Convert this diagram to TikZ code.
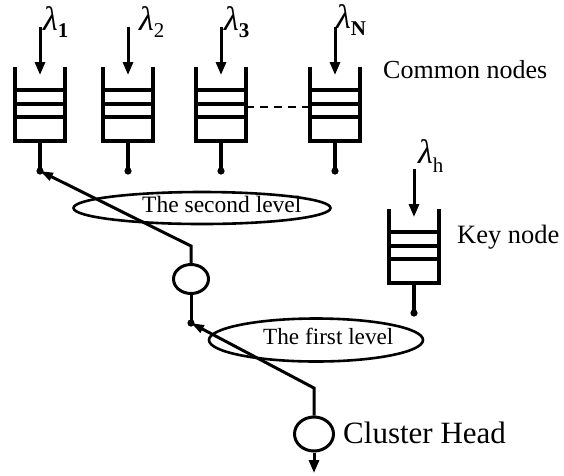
\documentclass[tikz,border=0pt]{standalone}
\usepackage{fontspec}
\setmainfont{Liberation Serif}
\usetikzlibrary{arrows.meta,shapes.geometric}

% lambda with a subscript, as used above each queue
\newcommand\lamlabel[2][-7pt]{{\fontsize{34}{34}\selectfont\itshape λ}\raisebox{#1}{\fontsize{21}{21}\selectfont #2}}

\tikzset{
  qline/.style={line width=3.2pt},
  conn/.style={line width=3pt},
  feed/.style={line width=3pt,-{Triangle[length=13pt,width=10pt]}},
  hop/.style={line width=3pt,-{Triangle[length=13pt,width=8pt]}},
  lvl/.style={draw,ellipse,line width=2.6pt,inner sep=0},
  srv/.style={draw,ellipse,line width=3pt,inner sep=0},
  lab/.style={anchor=base west,inner sep=0},
  % an open-top buffer with three slots, stem and output dot
  queue/.pic={
    \draw[qline] (-25,0) -- (-25,74) -- (25,74) -- (25,0);
    \draw[qline] (-25,23) -- (25,23);
    \draw[qline] (-25,37) -- (25,37);
    \draw[qline] (-25,50) -- (25,50);
    \draw[qline] (0,74) -- (0,104);
    \fill (0,104) circle (3.6);
    \coordinate (-dot) at (0,104);
    \coordinate (-inlet) at (0,8);
    \coordinate (-src) at (0,-40);
    \coordinate (-left) at (-25,40);
    \coordinate (-right) at (25,40);
  }
}

\begin{document}
\begin{tikzpicture}[x=1pt,y=-1pt]
\useasboundingbox (0,0) rectangle (564,475);

% common nodes
\pic (q1) at (40,67) {queue};
\pic (q2) at (128,67) {queue};
\pic (q3) at (221,67) {queue};
\pic (qn) at (335,67) {queue};
\draw[line width=2.5pt,dash pattern=on 8pt off 6pt] (q3-right) -- (qn-left);

\foreach \q in {q1,q2,q3,qn}
  \draw[feed] (\q-src) -- (\q-inlet);

\node[lab] (l1) at (43,30) {\lamlabel{\textbf{1}}};
\node[lab] (l2) at (139,30) {\lamlabel{2}};
\node[lab] (l3) at (224,30) {\lamlabel{\textbf{3}}};
\node[lab] (ln) at (336,28) {\lamlabel{\textbf{N}}};
\node[lab] (common) at (383,78) {\fontsize{26}{30}\selectfont Common nodes};

% key node
\pic (qk) at (414,209) {queue};
\draw[feed] (qk-src) -- (qk-inlet);
\node[lab] (lh) at (418,163) {\lamlabel[-9pt]{h}};
\node[lab] (keytxt) at (457,243) {\fontsize{26.5}{30}\selectfont Key node};

% relay and cluster head
\node[srv,minimum width=35pt,minimum height=29pt] (relay) at (191,279) {};
\node[srv,minimum width=39pt,minimum height=34pt] (head) at (314,434) {};
\coordinate (relaydot) at (191,323);
\coordinate (c2) at (191,246);
\coordinate (c1) at (314,388);
\coordinate (sink) at (314,473);

\draw[conn] (relay.south) -- (relaydot);
\fill (relaydot) circle (3.6);
\draw[hop] (relay.north) -- (c2) -- (q1-dot);
\draw[hop] (head.north) -- (c1) -- (relaydot);
\draw[feed] (head.south) -- (sink);

% level markers
\node[lvl,minimum width=257pt,minimum height=32pt] (lv2) at (202,208) {};
\node[lab] (lv2txt) at (142,212) {\fontsize{23.5}{26}\selectfont The second level};
\node[lvl,minimum width=214pt,minimum height=43pt] (lv1) at (316,340) {};
\node[lab] (lv1txt) at (263,344) {\fontsize{23.2}{26}\selectfont The first level};

\node[lab] (headtxt) at (343,443) {\fontsize{31}{34}\selectfont Cluster Head};
\end{tikzpicture}
\end{document}
